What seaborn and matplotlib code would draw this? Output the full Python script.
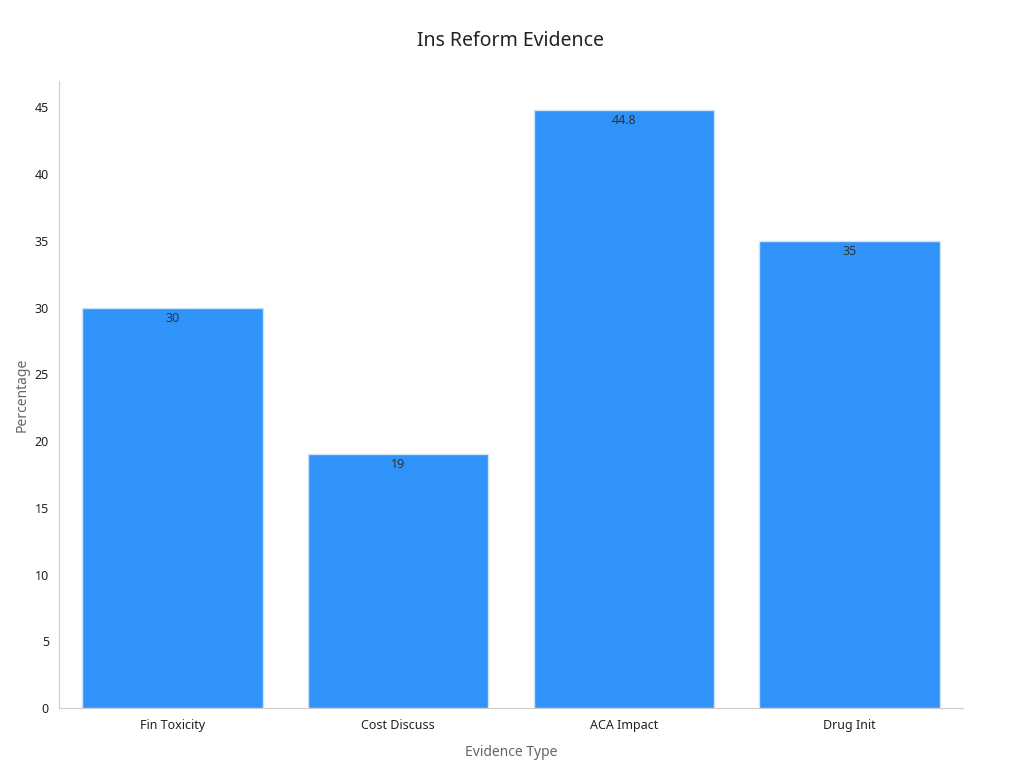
import matplotlib
matplotlib.use('Agg')
import matplotlib.pyplot as plt
import seaborn as sns
import pandas as pd

categories = ['Fin Toxicity', 'Cost Discuss', 'ACA Impact', 'Drug Init']
values = [30, 19, 44.8, 35]
labels = ['30', '19', '44.8', '35']

sns.set_style('white')
plt.rcParams['font.family'] = ['Noto Sans', 'DejaVu Sans']

df = pd.DataFrame({'Evidence Type': categories, 'Percentage': values})
fig, ax = plt.subplots(figsize=(10.24, 7.68), dpi=100)
sns.barplot(data=df, x='Evidence Type', y='Percentage', color='#2f93f9',
            saturation=1, width=0.8, edgecolor='#cfe3f7', linewidth=1, ax=ax)

for p, lab in zip(ax.patches, labels):
    ax.text(p.get_x() + p.get_width() / 2, p.get_height() - 0.3, lab,
            ha='center', va='top', fontsize=9, color='#333333')

ax.set_ylim(0, 47)
ax.set_yticks(range(0, 46, 5))
ax.set_title('Ins Reform Evidence', fontsize=14, color='#222222', pad=25)
ax.set_xlabel('Evidence Type', fontsize=10, color='#666666', labelpad=10)
ax.set_ylabel('Percentage', fontsize=10, color='#666666')
ax.tick_params(axis='both', labelsize=9, colors='#222222', length=4, color='#999999')
for s in ['top', 'right']:
    ax.spines[s].set_visible(False)
for s in ['left', 'bottom']:
    ax.spines[s].set_color('#cccccc')

fig.subplots_adjust(left=0.058, right=0.94, top=0.895, bottom=0.078)
fig.savefig('out.png', dpi=100)
